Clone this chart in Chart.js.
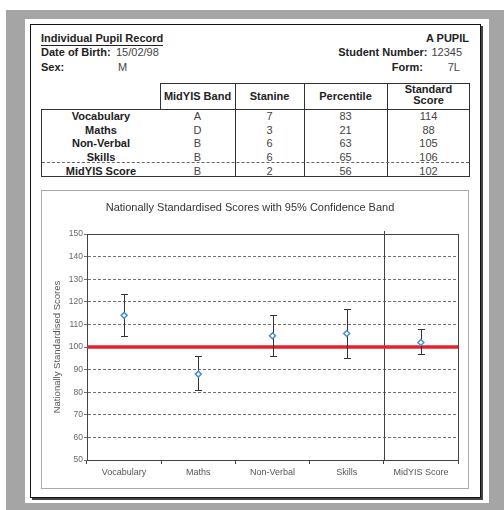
<!DOCTYPE html>
<html>
<head>
<meta charset="utf-8">
<script src="https://cdn.jsdelivr.net/npm/chart.js@4.4.1/dist/chart.umd.min.js"></script>
<style>
body { margin: 0; width: 504px; height: 510px; position: relative; background: #fff; overflow: hidden;
       font-family: "Liberation Sans", Arial, sans-serif; }
.bg { position: absolute; left: 6px; top: 10px; width: 498px; height: 500px; background: #a5a5a5; }
.page { position: absolute; left: 25px; top: 19px; width: 464px; height: 484px; background: #fff; }
.frame { position: absolute; left: 30px; top: 24px; width: 451px; height: 474px; box-sizing: border-box;
         border: 1.5px solid #111; box-shadow: 2px 2px 0 #444; }
.t { position: absolute; font-size: 11px; line-height: 13px; white-space: nowrap; color: #222; }
.b { font-weight: bold; }
.v { color: #444; }
.c { text-align: center; transform: translateX(-50%); }
.ln { position: absolute; background: #333; }
.box { position: absolute; box-sizing: border-box; border: 1px solid #333; }
.chartbox { position: absolute; left: 41px; top: 190px; width: 428px; height: 299px; box-sizing: border-box;
            border: 1px solid #aaa; }
#chart { position: absolute; left: 0; top: 0; }
</style>
</head>
<body>
<div class="bg"></div>
<div class="page"></div>
<div class="frame"></div>

<div class="t b" style="left:41px;top:31.5px;border-bottom:1.5px solid #222;">Individual Pupil Record</div>
<div class="t b" style="right:35px;top:31.5px;">A PUPIL</div>
<div class="t b" style="left:41px;top:45.5px;">Date of Birth:</div>
<div class="t v" style="left:116px;top:45.5px;">15/02/98</div>
<div class="t b" style="left:41px;top:60.5px;">Sex:</div>
<div class="t v" style="left:118px;top:60.5px;">M</div>
<div class="t b" style="right:76.5px;top:45.5px;">Student Number:</div>
<div class="t v" style="right:42px;top:45.5px;">12345</div>
<div class="t b" style="right:81px;top:60.5px;">Form:</div>
<div class="t v" style="right:44px;top:60.5px;">7L</div>

<div id="table"></div>

<div class="chartbox"><canvas id="chart" width="426" height="297" style="width:426px;height:297px"></canvas></div>

<script>
// ===== DADOS =====
const categories  = ['Vocabulary', 'Maths', 'Non-Verbal', 'Skills', 'MidYIS Score'];
const bands       = ['A', 'D', 'B', 'B', 'B'];
const stanines    = [7, 3, 6, 6, 2];
const percentiles = [83, 21, 63, 65, 56];
const scores      = [114, 88, 105, 106, 102];
const lowerBand   = [105, 81, 96, 95, 97];
const upperBand   = [123.5, 96, 114, 117, 108];
const columnHeads = ['MidYIS Band', 'Stanine', 'Percentile', 'Standard<br>Score'];
const yMin = 50, yMax = 150, yStep = 10;
const nationalAverage = 100;
const separatorAfter = 3; // linha vertical entre Skills e MidYIS Score

// ===== TABELA =====
(function buildTable() {
    const colX = [41, 160, 235, 304, 387, 470];
    const rowY = [116, 130, 143.5, 157, 171];
    let html = '';
    html += `<div class="box" style="left:160px;top:83px;width:310px;height:27px"></div>`;
    html += `<div class="box" style="left:41px;top:109px;width:429px;height:68px"></div>`;
    for (let i = 2; i < 5; i++) {
        html += `<div class="ln" style="left:${colX[i]}px;top:83px;width:1px;height:94px"></div>`;
    }
    html += `<div style="position:absolute;left:42px;top:162px;width:427px;border-top:1px dashed #666"></div>`;
    columnHeads.forEach((h, i) => {
        const cx = (colX[i + 1] + colX[i + 2]) / 2;
        const top = h.includes('<br>') ? 83.5 : 91;
        html += `<div class="t b c" style="left:${cx}px;top:${top}px;line-height:11.5px">${h}</div>`;
    });
    categories.forEach((cat, r) => {
        const top = rowY[r] - 6.5;
        const cells = [bands[r], stanines[r], percentiles[r], scores[r]];
        html += `<div class="t b c" style="left:101px;top:${top}px">${cat}</div>`;
        cells.forEach((v, i) => {
            const cx = (colX[i + 1] + colX[i + 2]) / 2;
            html += `<div class="t v c" style="left:${cx}px;top:${top}px">${v}</div>`;
        });
    });
    document.getElementById('table').innerHTML = html;
})();

// ===== GRÁFICO =====
Chart.defaults.font.family = '"Liberation Sans", Arial, sans-serif';

const overlayPlugin = {
    id: 'overlay',
    beforeDatasetsDraw(chart) {
        const { ctx, chartArea: a, scales: { x, y } } = chart;
        const px = v => Math.round(v) + 0.5;
        ctx.save();
        ctx.strokeStyle = '#444';
        ctx.lineWidth = 1;
        // moldura da área do gráfico
        ctx.strokeRect(px(a.left), px(a.top), Math.round(a.right - a.left), Math.round(a.bottom - a.top));
        // separador
        const sx = px((x.getPixelForValue(separatorAfter) + x.getPixelForValue(separatorAfter + 1)) / 2);
        ctx.beginPath();
        ctx.moveTo(sx, a.top - 3);
        ctx.lineTo(sx, a.bottom);
        ctx.stroke();
        // média nacional
        const ay = y.getPixelForValue(nationalAverage);
        ctx.strokeStyle = '#e5212b';
        ctx.lineWidth = 3.5;
        ctx.beginPath();
        ctx.moveTo(a.left, ay);
        ctx.lineTo(a.right, ay);
        ctx.stroke();
        // faixas de confiança
        ctx.strokeStyle = '#333';
        ctx.lineWidth = 1;
        scores.forEach((s, i) => {
            const cx = px(x.getPixelForValue(i));
            const top = Math.round(y.getPixelForValue(upperBand[i])) + 0.5;
            const bot = Math.round(y.getPixelForValue(lowerBand[i])) + 0.5;
            ctx.beginPath();
            ctx.moveTo(cx, top); ctx.lineTo(cx, bot);
            ctx.moveTo(cx - 3.5, top); ctx.lineTo(cx + 3.5, top);
            ctx.moveTo(cx - 3.5, bot); ctx.lineTo(cx + 3.5, bot);
            ctx.stroke();
        });
        ctx.restore();
    }
};

new Chart(document.getElementById('chart'), {
    type: 'line',
    data: {
        labels: categories,
        datasets: [{
            label: 'Standard Score',
            data: scores,
            showLine: false,
            pointStyle: 'rectRot',
            pointRadius: 3,
            pointBorderWidth: 1.5,
            pointBorderColor: '#4a8fd6',
            pointBackgroundColor: '#fff',
        }]
    },
    options: {
        responsive: false,
        animation: false,
        layout: { padding: { left: 0, right: 10, top: 0, bottom: 0 } },
        plugins: {
            legend: { display: false },
            tooltip: { enabled: false },
            title: {
                display: true,
                text: 'Nationally Standardised Scores with 95% Confidence Band',
                color: '#333',
                font: { size: 11, weight: 'normal' },
                padding: { top: 10.4, bottom: 19.4 }
            }
        },
        scales: {
            x: {
                offset: true,
                grid: { offset: true, drawOnChartArea: false, drawTicks: true, tickLength: 4, color: '#444' },
                border: { color: '#444' },
                ticks: { color: '#555', font: { size: 9 }, padding: 3, maxRotation: 0 },
                afterFit(scale) { scale.height = 28; }
            },
            y: {
                min: yMin,
                max: yMax,
                ticks: { stepSize: yStep, color: '#666', font: { size: 8.5 }, padding: 1 },
                grid: { color: '#707070', tickLength: 3 },
                border: { color: '#444', dash: [3, 2] },
                title: {
                    display: true,
                    text: 'Nationally Standardised Scores',
                    color: '#555',
                    font: { size: 9.5 },
                    padding: { top: 9.3, bottom: 0 }
                },
                afterFit(scale) { scale.width = 45; }
            }
        }
    },
    plugins: [overlayPlugin]
});
</script>
</body>
</html>
